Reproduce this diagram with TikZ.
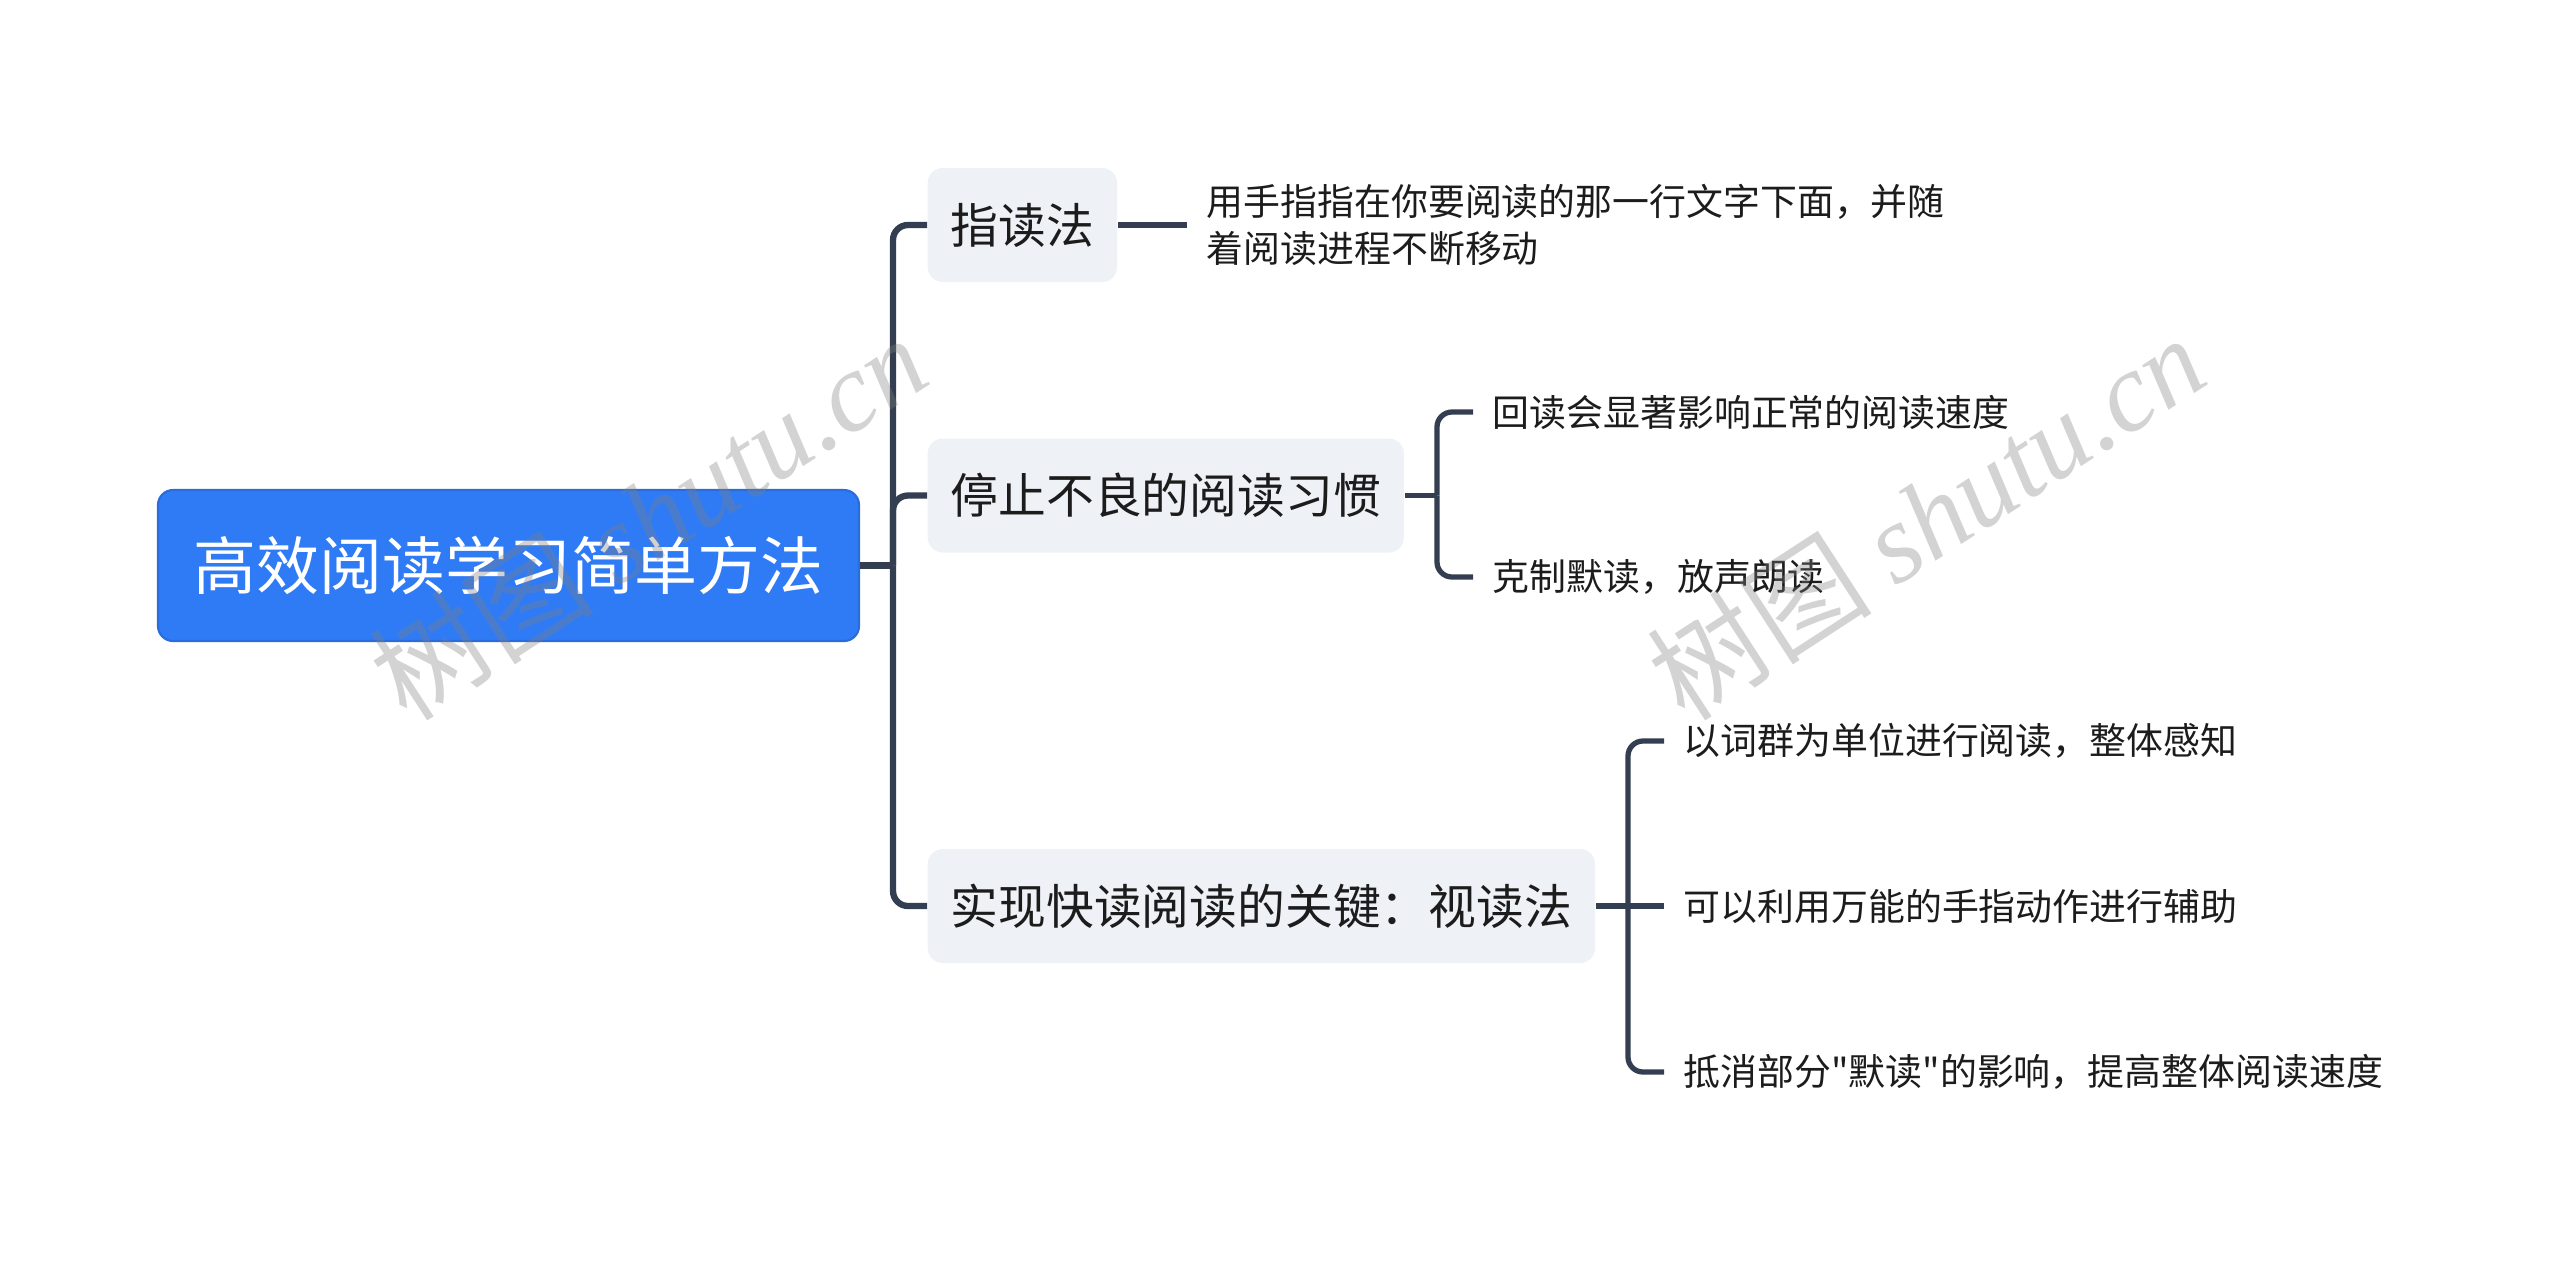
\documentclass[tikz,border=0pt]{standalone}
\usepackage{fontspec}
\setmainfont{Noto Sans CJK SC}[Ligatures=TeXOff]
\newfontfamily\wmfont{Liberation Serif}
\definecolor{rootblue}{HTML}{2F7BF6}
\definecolor{rootedge}{HTML}{2A6CDB}
\definecolor{topicgray}{HTML}{EEF1F5}
\definecolor{linkgray}{HTML}{333E50}
\definecolor{inkblack}{HTML}{1C1C1C}

\begin{document}
\begin{tikzpicture}
    \tikzset{
        root/.style={draw=rootedge, line width=0.6pt, fill=rootblue, rounded corners=0.15cm, text=white, font=\fontsize{17.9pt}{20pt}\selectfont, minimum width=7.01cm, minimum height=1.51cm},
        topic/.style={fill=topicgray, rounded corners=0.15cm, text=inkblack, font=\fontsize{13.6pt}{16pt}\selectfont, inner xsep=0.23cm, minimum height=1.14cm, anchor=west},
        leaf/.style={text=inkblack, font=\fontsize{10.5pt}{13.4pt}\selectfont, inner xsep=0.19cm, inner ysep=0pt, anchor=west, align=left},
        trunk/.style={draw=linkgray, line width=1.8pt, rounded corners=0.15cm},
        twig/.style={draw=linkgray, line width=1.5pt, rounded corners=0.15cm},
        wmark/.style={text=gray, text opacity=0.35, font=\fontsize{32pt}{36pt}\selectfont, rotate=33}
    }
    \useasboundingbox (0,0) rectangle (25.6,-12.72);

    \draw node[root] (root) at (5.085,-5.655) {高效阅读学习简单方法};
    \draw node[topic] (zhidu) at (9.27,-2.25) {指读法};
    \draw node[topic] (tingzhi) at (9.27,-4.955) {停止不良的阅读习惯};
    \draw node[topic] (shixian) at (9.27,-9.06) {实现快读阅读的关键：视读法};

    \draw node[leaf] (a1) at (11.87,-2.25) {用手指指在你要阅读的那一行文字下面，并随\\着阅读进程不断移动};
    \draw node[leaf] (b1) at (14.73,-4.12) {回读会显著影响正常的阅读速度};
    \draw node[leaf] (b2) at (14.73,-5.77) {克制默读，放声朗读};
    \draw node[leaf] (c1) at (16.64,-7.41) {以词群为单位进行阅读，整体感知};
    \draw node[leaf] (c2) at (16.64,-9.06) {可以利用万能的手指动作进行辅助};
    \draw node[leaf] (c3) at (16.64,-10.72) {抵消部分"默读"的影响，提高整体阅读速度};

    \coordinate (hub) at (8.93,-5.655);
    \coordinate (thub) at (14.37,-4.955);
    \coordinate (chub) at (16.28,-9.06);

    \draw[trunk] (root.east) -- (hub);
    \foreach \t in {zhidu,tingzhi,shixian}{
        \draw[trunk] (hub) |- (\t.west);
    }
    \draw[twig] (zhidu.east) -- (a1.west);
    \draw[twig] (tingzhi.east) -- (thub);
    \draw[twig] (shixian.east) -- (chub);
    \foreach \x/\y in {%
        thub/b1,thub/b2,chub/c1,chub/c3%
    }{
        \draw[twig] (\x) |- (\y.west);
    }
    \draw[twig] (chub) -- (c2.west);

    \foreach \wx/\wn in {6.48/w1,19.26/w2}{
        \node[wmark] (\wn) at (\wx,-5.17) {树图 {\wmfont\itshape shutu.cn}};
    }
\end{tikzpicture}
\end{document}
